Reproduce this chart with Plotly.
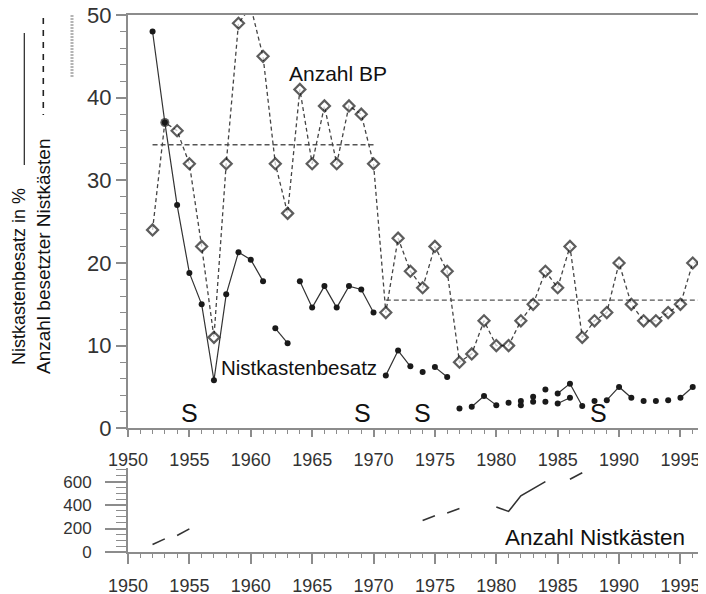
import plotly.graph_objs as go
from plotly.subplots import make_subplots


jahre = list(range(1952, 1998))

anzahl_bp = [24, 37, 36, 32, 22, 11, 32, 49, 51, 45,
             32, 26, 41, 32, 39, 32, 39, 38, 32, 14,
             23, 19, 17, 22, 19, 8, 9, 13, 10, 10,
             13, 15, 19, 17, 22, 11, 13, 14, 20, 15,
             13, 13, 14, 15, 20, 20]

besatz = [48, 37, 27, 18.8, 15, 5.8, 16.2, 21.3, 20.4, 17.8,
          12.1, 10.3, 17.8, 14.6, 17.2, 14.6, 17.2, 16.8, 14.0, 6.4,
          9.4, 7.5, 6.8, 7.4, 6.2, 2.4, 2.6, 3.9, 2.8, 3.1,
          3.3, 3.8, 4.7, 4.2, 5.4, 2.7, 3.3, 3.4, 5.0, 3.7,
          3.3, 3.3, 3.4, 3.7, 5.0, 5.0]
# Jahre, nach denen die Linie unterbrochen ist
besatz_bruch = [1961, 1963, 1970, 1973, 1974, 1976, 1977, 1980, 1981, 1982,
                1983, 1984, 1987, 1988, 1991, 1992, 1993, 1994, 1996]

besatz2_jahre = [1982, 1983, 1984, 1985, 1986]
besatz2 = [2.8, 3.2, 3.2, 3.0, 3.7]
besatz2_bruch = [1982, 1983, 1984]

mittel_von = [1952, 1971]
mittel_bis = [1970, 1997]
mittel_wert = [34.3, 15.5]

nk_jahre = [1952, 1953, 1954, 1955, 1974, 1975, 1976, 1977,
            1980, 1981, 1982, 1983, 1984, 1986, 1987]
nistkaesten = [64, 112, 140, 197, 269, 309, 332, 371,
               383, 346, 479, 536, 600, 620, 676]
nk_bruch = [1953, 1955, 1975, 1977, 1984]

s_jahre = [1955, 1969.1, 1974, 1988.3]

GRAU = "#8c8c8c"
DUNKEL = "#1a1a1a"


def mit_luecken(x, y, brueche):
    xs, ys = [], []
    for xi, yi in zip(x, y):
        xs.append(xi)
        ys.append(yi)
        if xi in brueche:
            xs.append(None)
            ys.append(None)
    return xs, ys


fig = make_subplots(rows=2, cols=1)

# Mittelwert-Linien
for von, bis, wert in zip(mittel_von, mittel_bis, mittel_wert):
    fig.add_trace(go.Scatter(x=[von, bis], y=[wert, wert], mode="lines",
                             line=dict(color="#555", width=1.3, dash="5px,3px"),
                             showlegend=False), row=1, col=1)

# Anzahl BP (1953 faellt mit dem Besatz-Punkt zusammen -> voller Punkt)
fig.add_trace(go.Scatter(
    x=jahre, y=anzahl_bp, mode="lines+markers",
    line=dict(color="#444", width=1.3, dash="4px,3px"),
    marker=dict(symbol=["circle" if j == 1953 else "diamond" for j in jahre],
                size=[9 if j == 1953 else 8.5 for j in jahre],
                color=[DUNKEL if j == 1953 else "white" for j in jahre],
                line=dict(color=DUNKEL, width=[0 if j == 1953 else 2.2 for j in jahre])),
    cliponaxis=False, showlegend=False), row=1, col=1)

# Nistkastenbesatz
bx, by = mit_luecken(jahre, besatz, besatz_bruch)
fig.add_trace(go.Scatter(x=bx, y=by, mode="lines+markers",
                         line=dict(color="#333", width=1.2),
                         marker=dict(color=DUNKEL, size=6),
                         cliponaxis=False, showlegend=False), row=1, col=1)
bx2, by2 = mit_luecken(besatz2_jahre, besatz2, besatz2_bruch)
fig.add_trace(go.Scatter(x=bx2, y=by2, mode="lines+markers",
                         line=dict(color="#333", width=1.2),
                         marker=dict(color=DUNKEL, size=6),
                         showlegend=False), row=1, col=1)

# Anzahl Nistkaesten
nx, ny = mit_luecken(nk_jahre, nistkaesten, nk_bruch)
fig.add_trace(go.Scatter(x=nx, y=ny, mode="lines",
                         line=dict(color="#333", width=1.6),
                         showlegend=False), row=2, col=1)

tickfont = dict(family="Liberation Sans, Arial", size=18, color="#333")

fig.update_xaxes(range=[1950, 1997], tick0=1950, dtick=5, showgrid=False, zeroline=False,
                 showline=True, linecolor=GRAU, linewidth=2,
                 ticks="outside", tickcolor=GRAU, tickwidth=1.5,
                 minor=dict(dtick=1, ticks="outside", ticklen=4, tickcolor=GRAU, tickwidth=1.2),
                 tickfont=tickfont, ticklabeloverflow="allow", automargin=False)
fig.update_xaxes(ticklen=7, ticklabelstandoff=7, mirror=True, row=1, col=1)
fig.update_xaxes(ticklen=10, ticklabelstandoff=6, row=2, col=1)

fig.update_yaxes(showgrid=False, zeroline=False, showline=True, linecolor=GRAU, linewidth=2,
                 mirror=True, ticks="outside", tickcolor=GRAU, tickwidth=1.5,
                 ticklabeloverflow="allow", automargin=False)
fig.update_yaxes(range=[0, 50], dtick=10, ticklen=10, ticklabelstandoff=0,
                 minor=dict(dtick=2, ticks="outside", ticklen=6, tickcolor=GRAU, tickwidth=1.2),
                 tickfont=dict(family="Liberation Sans, Arial", size=22, color="#333"),
                 domain=[0.2304, 1], row=1, col=1)
fig.update_yaxes(range=[0, 712], dtick=200, ticklen=21, ticklabelstandoff=10,
                 minor=dict(dtick=50, ticks="outside", ticklen=10, tickcolor=GRAU, tickwidth=1.2),
                 tickfont=dict(family="Liberation Sans, Arial", size=17, color="#333"),
                 domain=[0, 0.1555], row=2, col=1)

# die Seite hat 8 px Rand, daher sind die Raender um 8 px verschoben
W, H = 706, 594
ML, MR, MT, MB = 120, 9, 7, 50
PW = W - ML - MR


def px_x(seite_x):
    return (seite_x - 128) / PW


textfont = dict(family="Liberation Sans, Arial", color="#111")
annotations = [
    dict(x=1967.1, y=42.9, xref="x", yref="y", text="Anzahl BP", showarrow=False,
         font=dict(textfont, size=21)),
    dict(x=1963.9, y=7.4, xref="x", yref="y", text="Nistkastenbesatz", showarrow=False,
         font=dict(textfont, size=20.5)),
    dict(x=1988.0, y=120, xref="x2", yref="y2", text="Anzahl Nistkästen", showarrow=False,
         font=dict(textfont, size=22.5)),
    dict(x=px_x(19), y=0.5121, xref="paper", yref="paper", text="Nistkastenbesatz in %",
         textangle=-90, xanchor="center", yanchor="middle", showarrow=False,
         font=dict(textfont, size=18)),
    dict(x=px_x(43), y=0.5512, xref="paper", yref="paper", text="Anzahl besetzter Nistkästen",
         textangle=-90, xanchor="center", yanchor="middle", showarrow=False,
         font=dict(textfont, size=19)),
]
for sj in s_jahre:
    annotations.append(dict(x=sj, y=1.9, xref="x", yref="y", text="S", showarrow=False,
                            font=dict(textfont, size=25)))

shapes = [
    dict(type="line", xref="paper", yref="paper", x0=px_x(24.3), x1=px_x(24.3), y0=0.9665, y1=0.7207,
         line=dict(color="#222", width=1.2)),
    dict(type="line", xref="paper", yref="paper", x0=px_x(43.3), x1=px_x(43.3), y0=0.9944, y1=0.8138,
         line=dict(color="#222", width=1.6, dash="6px,6px")),
    dict(type="line", xref="paper", yref="paper", x0=px_x(72), x1=px_x(72), y0=1.0, y1=0.8845,
         line=dict(color="#b4b4b4", width=3, dash="2px,1px")),
    dict(type="line", xref="paper", yref="paper", x0=1, x1=1, y0=0.1555, y1=0.2304,
         line=dict(color=GRAU, width=2)),
]

fig.update_layout(width=W, height=H, margin=dict(l=ML, r=MR, t=MT, b=MB, autoexpand=False),
                  plot_bgcolor="white", paper_bgcolor="white",
                  annotations=annotations, shapes=shapes)

fig.write_html("out.html")
